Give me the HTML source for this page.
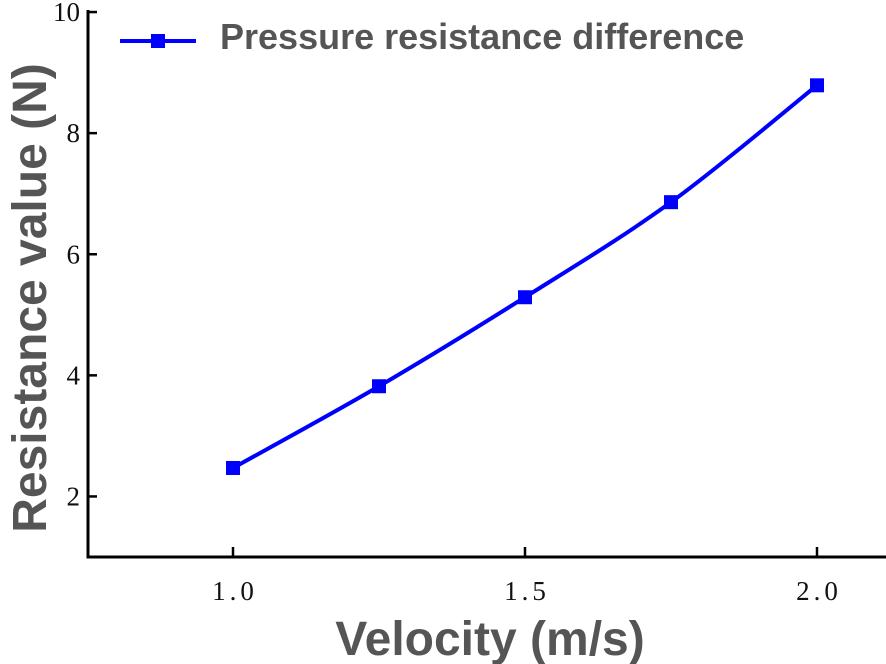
<!DOCTYPE html>
<html><head><meta charset="utf-8"><style>
html,body{margin:0;padding:0;background:#fff;}
svg{display:block;}
.tick{font-family:"Liberation Serif",serif;font-size:27px;fill:#111;}
.xt{letter-spacing:4px;}
.title{font-family:"Liberation Sans",sans-serif;font-weight:bold;fill:#555;}
</style></head><body>
<svg id="chart" width="886" height="664" viewBox="0 0 886 664">
<g id="axes"></g><g id="series"></g>
<text class="title" x="490" y="655" font-size="48" text-anchor="middle">Velocity (m/s)</text>
<text class="title" x="0" y="0" font-size="48" text-anchor="middle" transform="translate(46,298) rotate(-90)">Resistance value (N)</text>
<g>
<line x1="120" y1="41" x2="196" y2="41" stroke="#0000ff" stroke-width="4"/>
<rect x="151" y="34" width="14" height="14" fill="#0000ff"/>
<text class="title" x="220" y="49" font-size="36">Pressure resistance difference</text>
</g>
</svg>
<script>
const velocities=[1.0,1.25,1.5,1.75,2.0];
const resistance=[2.47,3.82,5.29,6.86,8.79];
const xTicks=[1.0,1.5,2.0];
const xTickLabels=["1.0","1.5","2.0"];
const yTicks=[2,4,6,8,10];
const yTickLabels=["2","4","6","8","10"];
const NS="http://www.w3.org/2000/svg";
function sx(v){return 233+(v-1.0)*584;}
function sy(v){return 557-(v-1)*60.55;}
const axes=document.getElementById('axes'),series=document.getElementById('series');
function mk(t,a,p){const e=document.createElementNS(NS,t);for(const k in a)e.setAttribute(k,a[k]);p.appendChild(e);return e;}
const ya=mk('line',{x1:88,y1:10,x2:88,y2:558.5,stroke:'#000','stroke-width':3},axes);


const xa=mk('line',{x1:86.5,y1:557,x2:886,y2:557,stroke:'#000','stroke-width':3},axes);


yTicks.forEach((v,i)=>{
 const t=mk('line',{x1:88,y1:sy(v),x2:97,y2:sy(v),stroke:'#000','stroke-width':2.5},axes);
 
 
 const l=mk('text',{x:80,y:sy(v)+9,'text-anchor':'end',class:'tick'},axes);
 l.textContent=yTickLabels[i];
 
 
});
xTicks.forEach((v,i)=>{
 const t=mk('line',{x1:sx(v),y1:557,x2:sx(v),y2:547,stroke:'#000','stroke-width':2.5},axes);
 
 
 const l=mk('text',{x:sx(v)+2,y:600,'text-anchor':'middle',class:'tick xt'},axes);
 l.textContent=xTickLabels[i];
 
 
});
const pts=velocities.map((v,i)=>[sx(v),sy(resistance[i])]);
let d='M'+pts[0][0]+','+pts[0][1];
for(let i=0;i<pts.length-1;i++){
 const p0=pts[Math.max(0,i-1)],p1=pts[i],p2=pts[i+1],p3=pts[Math.min(pts.length-1,i+2)];
 const c1=[p1[0]+(p2[0]-p0[0])/6,p1[1]+(p2[1]-p0[1])/6],c2=[p2[0]-(p3[0]-p1[0])/6,p2[1]-(p3[1]-p1[1])/6];
 d+=' C'+c1[0]+','+c1[1]+' '+c2[0]+','+c2[1]+' '+p2[0]+','+p2[1];
}
const path=mk('path',{d:d,fill:'none',stroke:'#0000ff','stroke-width':4},series);


pts.forEach(p=>{
 const r=mk('rect',{x:p[0]-7,y:p[1]-7,width:14,height:14,fill:'#0000ff'},series);
 
 
});
</script>
</body></html>
